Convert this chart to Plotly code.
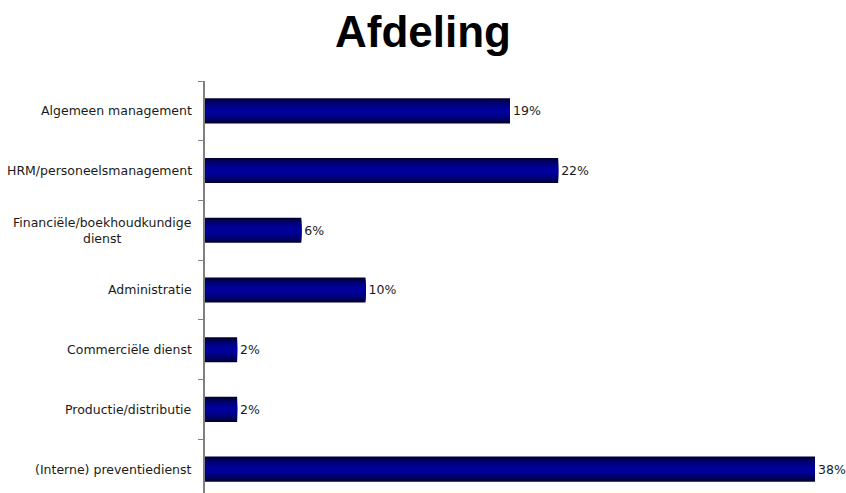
import plotly.graph_objects as go

# Department breakdown (percent of respondents)
categories = [
    "Algemeen management",
    "HRM/personeelsmanagement",
    "Financiële/boekhoudkundige<br>dienst",
    "Administratie",
    "Commerciële dienst",
    "Productie/distributie",
    "(Interne) preventiedienst",
]
values = [19, 22, 6, 10, 2, 2, 38]
labels = [f"{v}%" for v in values]

# Bars are drawn bottom-up, so reverse to keep the list order top-down
cats_plot = categories[::-1]
vals_plot = values[::-1]
labels_plot = labels[::-1]

# Stacked-in-place layers of decreasing thickness give a shaded, tube-like bar
shade_layers = [
    (0.42, "#000036"),
    (0.36, "#000055"),
    (0.29, "#00006e"),
    (0.22, "#000082"),
    (0.14, "#000092"),
    (0.07, "#00009c"),
]

fig = go.Figure()
for i, (w, col) in enumerate(shade_layers):
    fig.add_trace(go.Bar(
        x=vals_plot,
        y=cats_plot,
        orientation="h",
        width=w,
        marker=dict(color=col, line=dict(width=0)),
        text=labels_plot if i == 0 else None,
        textposition="outside" if i == 0 else "none",
        textfont=dict(family="DejaVu Sans", size=12.5, color="#1a1a1a"),
        cliponaxis=False,
        hoverinfo="skip" if i else None,
        showlegend=False,
    ))

# Category labels as centred annotations so wrapped names stay centred
for cat in cats_plot:
    fig.add_annotation(
        x=0, xref="paper", xanchor="right", xshift=-11,
        y=cat, yref="y", yanchor="middle",
        text=cat, align="center", showarrow=False,
        font=dict(family="DejaVu Sans", size=12.5, color="#1a1a1a"),
    )

fig.update_layout(
    width=846,
    height=493,
    barmode="overlay",
    paper_bgcolor="white",
    plot_bgcolor="white",
    margin=dict(l=205, r=31, t=81, b=0),
    title=dict(
        text="<b>Afdeling</b>",
        font=dict(family="Liberation Sans", size=44, color="#000000"),
        x=0.5, xanchor="center",
        y=1 - 32 / 493, yanchor="middle",
    ),
    xaxis=dict(
        range=[0, 38],
        visible=False,
    ),
    yaxis=dict(
        type="category",
        categoryorder="array",
        categoryarray=cats_plot,
        range=[-0.4, 6.5],
        showline=True,
        linecolor="#808080",
        linewidth=2,
        ticks="outside",
        tickson="boundaries",
        ticklen=5,
        tickcolor="#808080",
        tickwidth=1,
        showgrid=False,
        showticklabels=False,
    ),
)

fig.write_html("out.html")
